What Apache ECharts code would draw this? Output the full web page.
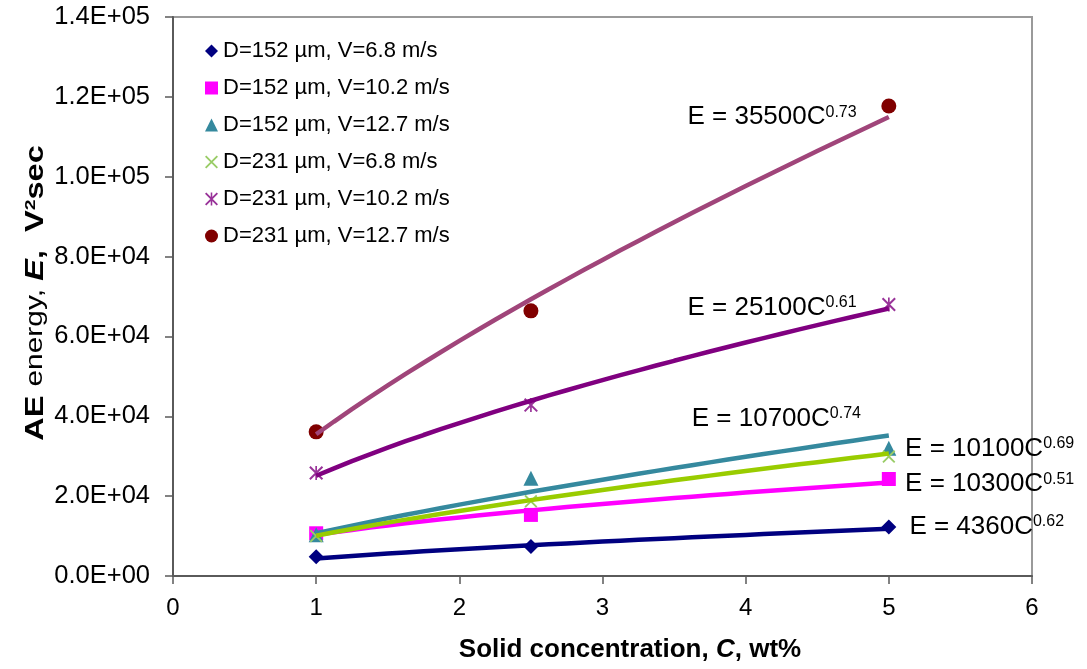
<!DOCTYPE html>
<html>
<head>
<meta charset="utf-8">
<script src="https://cdn.jsdelivr.net/npm/echarts@6/dist/echarts.min.js"></script>
<style>
html,body{margin:0;padding:0;background:#fff;}
#chart{width:1087px;height:669px;}
</style>
</head>
<body>
<div id="chart"></div>
<script>
// ---- data ----
const concentrations = [1, 2.5, 5];
const seriesNames = [
  'D=152 µm, V=6.8 m/s',
  'D=152 µm, V=10.2 m/s',
  'D=152 µm, V=12.7 m/s',
  'D=231 µm, V=6.8 m/s',
  'D=231 µm, V=10.2 m/s',
  'D=231 µm, V=12.7 m/s'
];
const d152v68  = [4800, 7400, 12300];
const d152v102 = [10700, 15300, 24300];
const d152v127 = [10300, 24500, 32000];
const d231v68  = [10000, 18700, 29900];
const d231v102 = [25800, 42800, 68000];
const d231v127 = [36100, 66400, 117700];
// power trendline coefficients E = a*C^b (as printed on the chart)
const trendA = [4360, 10300, 10700, 10100, 25100, 35500];
const trendB = [0.62, 0.51, 0.74, 0.69, 0.61, 0.73];
const trendRange = [1, 5];
// equation labels
const eqText = ['E = 4360C', 'E = 10300C', 'E = 10700C', 'E = 10100C', 'E = 25100C', 'E = 35500C'];
const eqExp  = ['0.62', '0.51', '0.74', '0.69', '0.61', '0.73'];
const eqX    = [5.14, 5.11, 3.62, 5.11, 3.59, 3.59];
const eqY    = [12300, 23000, 39300, 31800, 67100, 114900];
// ticks
const xTickLabels = ['0', '1', '2', '3', '4', '5', '6'];
const yTickLabels = ['0.0E+00', '2.0E+04', '4.0E+04', '6.0E+04', '8.0E+04', '1.0E+05', '1.2E+05', '1.4E+05'];

// ---- styles ----
const FONT = 'Liberation Sans, Arial, sans-serif';
const allValues = [d152v68, d152v102, d152v127, d231v68, d231v102, d231v127];
const markerColors = ['#000080', '#FF00FF', '#35899E', '#99CC66', '#993399', '#800000'];
const lineColors   = ['#000080', '#FF00FF', '#35899E', '#99CC00', '#800080', '#A0457A'];
const xPath = 'path://M0,1 L1,0 L10,9 L9,10 Z M9,0 L10,1 L1,10 L0,9 Z';
const starPath = 'path://M0,1 L1,0 L10,9 L9,10 Z M9,0 L10,1 L1,10 L0,9 Z M4.4,0 L5.6,0 L5.6,10 L4.4,10 Z';
const symbols = ['diamond', 'rect', 'triangle', xPath, starPath, 'circle'];
const symbolSizes = [15, 14, 15, 13, 14, 15];

const series = [];
allValues.forEach((vals, i) => {
  series.push({
    name: seriesNames[i],
    type: 'scatter',
    symbol: symbols[i],
    symbolSize: symbolSizes[i],
    itemStyle: { color: markerColors[i], opacity: 1 },
    data: vals.map((v, k) => [concentrations[k], v]),
    z: 2
  });
});
// trendlines through the equations
const nSteps = 32;
trendA.forEach((a, i) => {
  const pts = [];
  for (let k = 0; k <= nSteps; k++) {
    const c = trendRange[0] + (trendRange[1] - trendRange[0]) * k / nSteps;
    pts.push([c, a * Math.pow(c, trendB[i])]);
  }
  series.push({
    name: 'trend' + i,
    type: 'line',
    data: pts,
    showSymbol: false,
    symbol: 'none',
    silent: true,
    lineStyle: { color: lineColors[i], width: 4.5 },
    z: 3
  });
});
// equation labels
series.push({
  name: 'equations',
  type: 'scatter',
  symbolSize: 1,
  silent: true,
  itemStyle: { color: 'rgba(0,0,0,0)', opacity: 1 },
  data: eqText.map((t, i) => ({ value: [eqX[i], eqY[i]], name: t })),
  label: {
    show: true,
    position: 'right',
    distance: 0,
    color: '#000',
    opacity: 1,
    formatter: p => '{m|' + eqText[p.dataIndex] + '}{s|' + eqExp[p.dataIndex] + '}',
    rich: {
      m: { fontSize: 26, color: '#000', fontFamily: FONT },
      s: { fontSize: 16, color: '#000', fontFamily: FONT, verticalAlign: 'top' }
    }
  },
  z: 4
});

const chart = echarts.init(document.getElementById('chart'), null, { renderer: 'canvas' });
chart.setOption({
  backgroundColor: '#fff',
  animation: false,
  textStyle: { fontFamily: FONT },
  grid: {
    left: 173, right: 55, top: 17, bottom: 93,
    show: true, borderColor: '#9a9a9a', borderWidth: 2, backgroundColor: '#fff',
    containLabel: false, outerBoundsMode: 'none'
  },
  legend: {
    data: seriesNames,
    orient: 'vertical',
    left: 200, top: 35,
    itemWidth: 13, itemHeight: 13,
    itemGap: 15,
    textStyle: { fontSize: 22, color: '#000', fontFamily: FONT, lineHeight: 22 },
    selectedMode: false
  },
  xAxis: {
    type: 'value', min: 0, max: 6, interval: 1,
    axisLine: { show: true, onZero: false, lineStyle: { color: '#5a5a5a', width: 2 } },
    axisTick: { show: true, inside: false, length: 8, lineStyle: { color: '#5a5a5a', width: 1.5 } },
    axisLabel: { fontSize: 24, color: '#000', margin: 20, fontFamily: FONT,
      formatter: v => xTickLabels[Math.round(v)] },
    splitLine: { show: false }
  },
  yAxis: {
    type: 'value', min: 0, max: 140000, interval: 20000,
    axisLine: { show: true, onZero: false, lineStyle: { color: '#5a5a5a', width: 2 } },
    axisTick: { show: true, inside: false, length: 8, lineStyle: { color: '#5a5a5a', width: 1.5 } },
    axisLabel: { fontSize: 25.5, color: '#000', margin: 23, fontFamily: FONT,
      formatter: v => yTickLabels[Math.round(v / 20000)] },
    splitLine: { show: false }
  },
  graphic: [
    {
      type: 'text',
      x: 630, y: 650,
      style: {
        text: '{b|Solid concentration, }{bi|C}{b|, wt%}',
        align: 'center', verticalAlign: 'middle',
        rich: {
          b: { fontSize: 26, fontWeight: 'bold', fill: '#000', fontFamily: FONT },
          bi: { fontSize: 26, fontWeight: 'bold', fontStyle: 'italic', fill: '#000', fontFamily: FONT }
        }
      }
    },
    {
      type: 'text',
      x: 36, y: 293,
      rotation: Math.PI / 2,
      scaleX: 1.3,
      style: {
        text: '{b|AE }{n|energy, }{bi|E}{b|,  V}{sup|2}{b|sec}',
        align: 'center', verticalAlign: 'middle',
        rich: {
          b: { fontSize: 25, fontWeight: 'bold', fill: '#000', fontFamily: FONT },
          n: { fontSize: 23, fontWeight: 'normal', fill: '#000', fontFamily: FONT },
          bi: { fontSize: 25, fontWeight: 'bold', fontStyle: 'italic', fill: '#000', fontFamily: FONT },
          sup: { fontSize: 15, fontWeight: 'bold', fill: '#000', fontFamily: FONT, verticalAlign: 'top' }
        }
      }
    }
  ],
  series: series
});
</script>
</body>
</html>
